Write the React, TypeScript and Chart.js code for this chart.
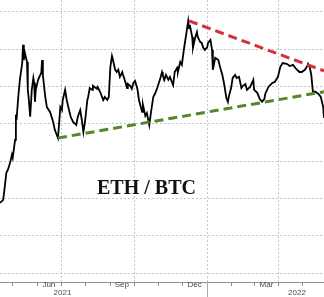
import React, { useEffect, useRef } from "react";
import { Chart, registerables } from "chart.js";

Chart.register(...registerables);

// Days counted from 2021-01-01 (day 0)
const days = [
  104, 108, 110, 112, 114, 117, 119, 120, 123, 124, 125, 127, 129, 132, 133, 134, 135, 138, 139, 140,
  142, 144, 146, 147, 148, 149, 152, 156, 157, 158, 161, 163, 167, 171, 173, 177, 180, 182, 183, 186,
  188, 190, 193, 196, 200, 202, 205, 207, 209, 211, 214, 215, 217, 220, 221, 226, 227, 230, 234, 236,
  239, 241, 243, 245, 246, 249, 251, 253, 255, 258, 259, 261, 264, 265, 268, 270, 272, 274, 277, 279,
  283, 284, 287, 289, 292, 294, 297, 299, 302, 306, 308, 309, 311, 313, 316, 318, 322, 324, 327, 328,
  331, 333, 336, 338, 341, 342, 343, 346, 347, 350, 352, 353, 356, 358, 360, 362, 365, 366, 369, 371,
  372, 375, 379, 381, 384, 386, 389, 391, 392, 395, 397, 400, 402, 405, 408, 410, 413, 415, 419, 423,
  424, 428, 431, 434, 437, 438, 442, 447, 450, 454, 457, 460, 465, 469, 473, 477, 481, 484, 488, 491,
  492, 494, 496, 498, 501, 505, 508, 511, 512,
];
const ethBtc = [
  0.0388, 0.0396, 0.0431, 0.0469, 0.0477, 0.0498, 0.0517, 0.0509, 0.0557, 0.0619, 0.0616, 0.0672, 0.0718, 0.0763, 0.0812, 0.0771, 0.0793, 0.0766, 0.0691, 0.0672,
  0.0619, 0.0691, 0.0723, 0.071, 0.0659, 0.0691, 0.0718, 0.0737, 0.0771, 0.0731, 0.0672, 0.0645, 0.0632, 0.0605, 0.0584, 0.0562, 0.0645, 0.0637, 0.0664, 0.0691,
  0.0664, 0.0645, 0.0619, 0.0605, 0.0597, 0.0619, 0.0637, 0.0611, 0.0578, 0.0605, 0.0664, 0.0672, 0.0696, 0.0691, 0.0702, 0.0694, 0.0699, 0.0686, 0.0664, 0.0672,
  0.0664, 0.0672, 0.0753, 0.0782, 0.0774, 0.0745, 0.0739, 0.0745, 0.0726, 0.0739, 0.0731, 0.0718, 0.0696, 0.0707, 0.0702, 0.0694, 0.071, 0.0715, 0.0694, 0.0664,
  0.0632, 0.0651, 0.0621, 0.0629, 0.0597, 0.0629, 0.0672, 0.068, 0.0696, 0.0723, 0.0739, 0.0731, 0.0718, 0.0731, 0.0718, 0.0726, 0.0704, 0.0739, 0.075, 0.0739,
  0.0766, 0.0758, 0.0806, 0.0833, 0.0876, 0.0857, 0.0865, 0.0833, 0.0804, 0.0833, 0.0846, 0.0833, 0.082, 0.0817, 0.0804, 0.0798, 0.0806, 0.0817, 0.0825, 0.0798,
  0.0745, 0.0777, 0.0771, 0.0753, 0.0731, 0.071, 0.067, 0.0659, 0.0672, 0.0696, 0.0723, 0.0731, 0.0723, 0.0726, 0.0696, 0.0702, 0.0707, 0.0691, 0.0699, 0.0718,
  0.0691, 0.0683, 0.0667, 0.0659, 0.0667, 0.068, 0.0699, 0.071, 0.0712, 0.0726, 0.0753, 0.0763, 0.0761, 0.0755, 0.0758, 0.0747, 0.0739, 0.0739, 0.0745, 0.0755,
  0.0761, 0.0753, 0.0731, 0.0686, 0.0686, 0.068, 0.0672, 0.0645, 0.0616,
];

// Trend lines
const resistanceDays = [342, 512];
const resistanceValues = [0.0876, 0.0742];
const supportDays = [177, 512];
const supportValues = [0.0562, 0.0686];

// Axis ticks
const monthStarts = [120, 151, 181, 212, 243, 273, 304, 334, 365, 396, 424, 455, 485];
const quarterStarts = [181, 273, 365, 455];
const monthLabelDays = [165.5, 257.5, 349, 439.5];
const monthLabels = ["Jun", "Sep", "Dec", "Mar"];
const yearLabelDays = [182.7, 478];
const yearLabels = ["2021", "2022"];
const yearBoundary = 365;
const gridValues = [0.02, 0.03, 0.04, 0.05, 0.06, 0.07, 0.08, 0.09];
const title = "ETH / BTC";

const X_MIN = 104;
const X_MAX = 512;
const Y_MIN = 0.0176;
const Y_MAX = 0.0932;

const toPoints = (xs: number[], ys: number[]) => xs.map((x, i) => ({ x, y: ys[i] }));

const yearSeparator = {
  id: "yearSeparator",
  afterDraw(chart: any) {
    const { ctx, chartArea } = chart;
    const x = Math.round(chart.scales.x.getPixelForValue(yearBoundary)) + 0.5;
    ctx.save();
    ctx.strokeStyle = "#a8a8a8";
    ctx.lineWidth = 1;
    ctx.beginPath();
    ctx.moveTo(x, chartArea.bottom);
    ctx.lineTo(x, chart.height);
    ctx.stroke();
    ctx.restore();
  },
};

export default function App() {
  const canvasRef = useRef<HTMLCanvasElement | null>(null);

  useEffect(() => {
    if (!canvasRef.current) return;
    const labelTicks = new Map<number, string | string[]>();
    monthLabelDays.forEach((d, i) => labelTicks.set(d, monthLabels[i]));
    yearLabelDays.forEach((d, i) => labelTicks.set(d, ["", yearLabels[i]]));
    const allTicks = [...monthStarts, ...monthLabelDays, ...yearLabelDays].sort((a, b) => a - b);

    const chart = new Chart(canvasRef.current, {
      type: "line",
      data: {
        datasets: [
          {
            data: toPoints(days, ethBtc),
            borderColor: "#000000",
            borderWidth: 1.8,
            pointRadius: 0,
            tension: 0,
            order: 2,
          },
          {
            data: toPoints(resistanceDays, resistanceValues),
            borderColor: "#d42f3c",
            borderWidth: 3,
            borderDash: [9, 5],
            pointRadius: 0,
            order: 1,
          },
          {
            data: toPoints(supportDays, supportValues),
            borderColor: "#55862c",
            borderWidth: 3,
            borderDash: [9, 5],
            pointRadius: 0,
            order: 1,
          },
        ],
      },
      options: {
        animation: false,
        responsive: true,
        maintainAspectRatio: false,
        layout: { padding: 0 },
        plugins: {
          legend: { display: false },
          tooltip: { enabled: false },
          title: { display: false },
        },
        scales: {
          x: {
            type: "linear",
            min: X_MIN,
            max: X_MAX,
            position: "bottom",
            afterBuildTicks: (scale: any) => {
              scale.ticks = allTicks.map((v) => ({ value: v }));
            },
            afterFit: (scale: any) => {
              scale.height = 15;
            },
            grid: {
              display: true,
              drawOnChartArea: true,
              drawTicks: true,
              tickLength: 4,
              lineWidth: 1,
              color: (ctx: any) =>
                ctx.tick && quarterStarts.includes(ctx.tick.value) ? "#c6c6c6" : "rgba(0,0,0,0)",
              tickColor: (ctx: any) =>
                ctx.tick && monthStarts.includes(ctx.tick.value) ? "#8a8a8a" : "rgba(0,0,0,0)",
            },
            border: { display: true, color: "#909090", width: 1, dash: [2, 2] },
            ticks: {
              autoSkip: false,
              maxRotation: 0,
              minRotation: 0,
              padding: -6,
              color: "#4a4a4a",
              font: { family: "Liberation Sans", size: 8, lineHeight: 1.1 },
              callback: (value: any) => labelTicks.get(value as number) ?? "",
            },
          },
          y: {
            type: "linear",
            min: Y_MIN,
            max: Y_MAX,
            position: "left",
            afterBuildTicks: (scale: any) => {
              scale.ticks = gridValues.map((v) => ({ value: v }));
            },
            afterFit: (scale: any) => {
              scale.width = 0;
            },
            grid: {
              display: true,
              drawTicks: false,
              color: "#c6c6c6",
              lineWidth: 1,
            },
            border: { display: false, dash: [2, 2] },
            ticks: { display: false },
          },
        },
      },
      plugins: [yearSeparator],
    });
    return () => chart.destroy();
  }, []);

  return (
    <div style={{ position: "absolute", left: 0, top: 0, width: 324, height: 297, background: "#ffffff" }}>
      <canvas ref={canvasRef} />
      <div
        style={{
          position: "absolute",
          left: 97,
          top: 177,
          fontFamily: "'Liberation Serif', serif",
          fontWeight: "bold",
          fontSize: 20,
          lineHeight: 1,
          color: "#111111",
          whiteSpace: "nowrap",
          pointerEvents: "none",
        }}
      >
        {title}
      </div>
    </div>
  );
}
